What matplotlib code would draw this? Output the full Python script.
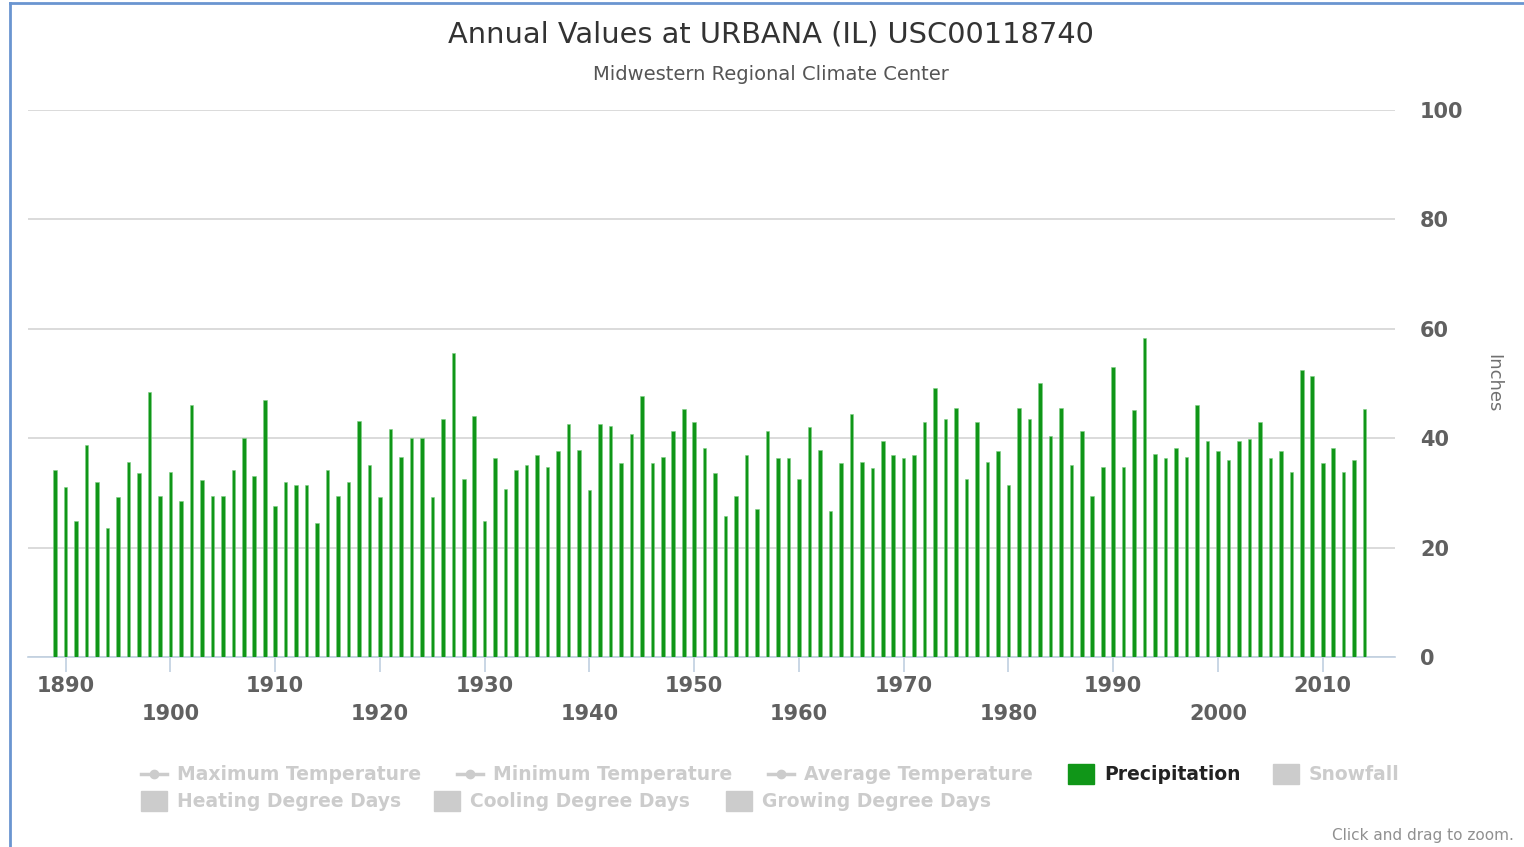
import matplotlib
matplotlib.use("Agg")
import matplotlib.pyplot as plt
from matplotlib.patches import Rectangle
from matplotlib.lines import Line2D

years = list(range(1889, 2015))
precip = [
    34.2, 31.1, 24.8, 38.8, 32.0, 23.6, 29.2, 35.7, 33.6, 48.5,
    29.5, 33.9, 28.6, 46.0, 32.4, 29.5, 29.5, 34.2, 40.1, 33.0,
    46.9, 27.6, 32.0, 31.4, 31.4, 24.5, 34.2, 29.5, 32.0, 43.2,
    35.1, 29.2, 41.7, 36.6, 40.1, 40.1, 29.2, 43.5, 55.6, 32.6,
    44.1, 24.8, 36.3, 30.8, 34.2, 35.1, 36.9, 34.8, 37.6, 42.6,
    37.9, 30.5, 42.6, 42.3, 35.4, 40.7, 47.8, 35.4, 36.6, 41.3,
    45.4, 42.9, 38.2, 33.6, 25.8, 29.5, 36.9, 27.0, 41.3, 36.3,
    36.3, 32.6, 42.0, 37.9, 26.7, 35.4, 44.4, 35.7, 34.5, 39.4,
    36.9, 36.3, 36.9, 42.9, 49.1, 43.5, 45.6, 32.6, 42.9, 35.7,
    37.6, 31.4, 45.6, 43.5, 50.0, 40.4, 45.6, 35.1, 41.3, 29.5,
    34.8, 53.1, 34.8, 45.1, 58.4, 37.2, 36.3, 38.2, 36.6, 46.0,
    39.4, 37.6, 36.0, 39.4, 39.8, 42.9, 36.3, 37.6, 33.9, 52.5,
    51.3, 35.4, 38.2, 33.9, 36.0, 45.4,
]
x_ticks = list(range(1890, 2011, 10))
y_ticks = [0, 20, 40, 60, 80, 100]

title = "Annual Values at URBANA (IL) USC00118740"
subtitle = "Midwestern Regional Climate Center"
legend_row1 = [("Maximum Temperature", "line"), ("Minimum Temperature", "line"),
               ("Average Temperature", "line"), ("Precipitation", "active"),
               ("Snowfall", "box")]
legend_row2 = [("Heating Degree Days", "box"), ("Cooling Degree Days", "box"),
               ("Growing Degree Days", "box")]

W, H = 1524, 847
fig = plt.figure(figsize=(W / 100, H / 100), dpi=100)
fig.patch.set_facecolor("white")

def fx(px):
    return px / W

def fy(py):
    return 1 - py / H

# outer border (left & top)
fig.add_artist(Line2D([fx(10), fx(10)], [fy(3), 0], transform=fig.transFigure,
                      color="#6a95d0", lw=2))
fig.add_artist(Line2D([fx(10), 1], [fy(3), fy(3)], transform=fig.transFigure,
                      color="#6a95d0", lw=2))

ax = fig.add_axes([fx(28), fy(657), fx(1395) - fx(28), fy(110) - fy(657)])
ax.set_xlim(1886.4, 2016.9)
ax.set_ylim(0, 100)

ax.bar(years, precip, width=0.34, color="#109618", edgecolor="#7fcf85",
       linewidth=0.4, zorder=3)

for s in ["top", "right", "left"]:
    ax.spines[s].set_visible(False)
ax.spines["bottom"].set_color("#c0d0e0")
ax.spines["bottom"].set_linewidth(1.2)

ax.set_yticks(y_ticks)
ax.yaxis.tick_right()
ax.tick_params(axis="y", length=0, pad=18, labelsize=15, labelcolor="#606060")
for lab in ax.get_yticklabels():
    lab.set_fontweight("bold")
ax.grid(axis="y", color="#d8d8d8", linewidth=1.3, zorder=0)
ax.set_axisbelow(True)

ax.set_xticks(x_ticks)
ax.set_xticklabels([str(y) if i % 2 == 0 else "\n" + str(y)
                    for i, y in enumerate(x_ticks)],
                   fontsize=15, fontweight="bold", color="#606060",
                   linespacing=1.5)
ax.tick_params(axis="x", direction="out", length=11, width=1.2,
               color="#c0d0e0", pad=3)

ax.yaxis.set_label_position("right")
ax.set_ylabel("Inches", rotation=270, fontsize=13, color="#707070")
ax.yaxis.set_label_coords(fx(1493 - 28) / (fx(1395) - fx(28)), 0.5)
ax.yaxis.label.set_verticalalignment("center")

fig.text(fx(771), fy(34), title, ha="center", va="center", fontsize=20.8,
         color="#333333")
fig.text(fx(771), fy(75), subtitle, ha="center", va="center", fontsize=14,
         color="#555555")

# legend
grey = "#cccccc"
def legend_item(xpx, ypx, label, kind):
    if kind == "line":
        fig.add_artist(Line2D([fx(xpx), fx(xpx + 26)], [fy(ypx), fy(ypx)],
                              transform=fig.transFigure, color=grey, lw=2.5))
        fig.add_artist(Line2D([fx(xpx + 13)], [fy(ypx)], transform=fig.transFigure,
                              color=grey, marker="o", markersize=6))
        tcolor = grey
    else:
        color = "#109618" if kind == "active" else grey
        fig.add_artist(Rectangle((fx(xpx), fy(ypx + 10)), fx(26), fy(0) - fy(20),
                                 transform=fig.transFigure, color=color))
        tcolor = "#222222" if kind == "active" else grey
    fig.text(fx(xpx + 36), fy(ypx), label, ha="left", va="center",
             fontsize=13.5, fontweight="bold", color=tcolor)

row1_x = [141, 457, 768, 1068, 1273]
row2_x = [141, 434, 726]
for (lab, kind), xpx in zip(legend_row1, row1_x):
    legend_item(xpx, 774, lab, kind)
for (lab, kind), xpx in zip(legend_row2, row2_x):
    legend_item(xpx, 801, lab, kind)

fig.text(fx(1514), fy(835), "Click and drag to zoom.", ha="right", va="center",
         fontsize=11, color="#909090")

fig.savefig("out.png", dpi=100)
